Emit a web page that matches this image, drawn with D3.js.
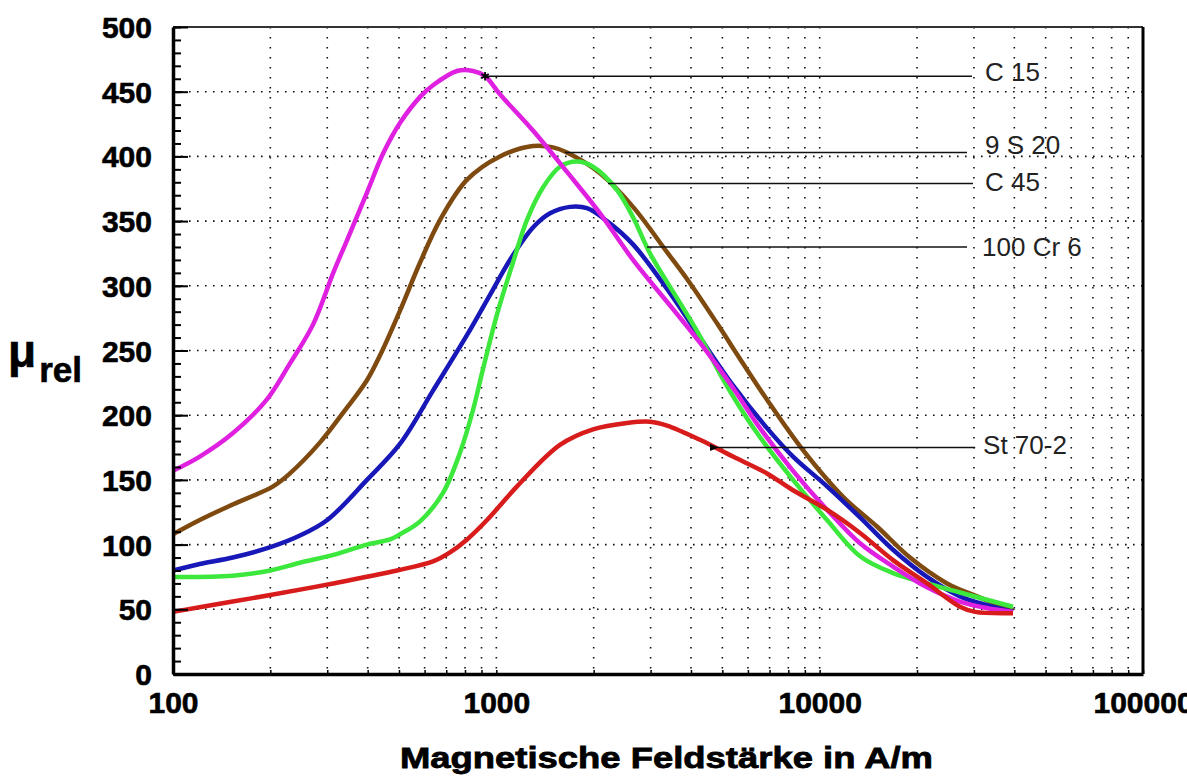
<!DOCTYPE html>
<html>
<head>
<meta charset="utf-8">
<script src="https://cdnjs.cloudflare.com/ajax/libs/d3/7.8.5/d3.min.js"></script>
<style>
body { margin: 0; background: #fff; }
text { font-family: "Liberation Sans", Arial, sans-serif; }
</style>
</head>
<body>
<script>
// [H in A/m, mu_rel]
var c15 = [[100,157],[121,168],[153,186],[195,212],[230,240],[271,270],[313,310],[345,335],[398,372],[446,402],[504,426],[581,446],[637,455],[756,466],[847,466],[923,462],[1026,448],[1298,420],[1654,388],[2093,356],[2647,320],[3519,282],[4265,256],[5395,221],[6539,190],[8271,157],[10537,127],[13330,101],[16860,83],[21480,67],[27160,56],[32800,51],[39620,48]];
var s920 = [[100,108],[121,119],[153,131],[204,145],[230,155],[285,179],[336,202],[398,227],[446,251],[504,281],[581,318],[670,351],[812,382],[1026,400],[1298,408],[1497,407],[1654,403],[2093,387],[2647,361],[3372,326],[3972,302],[4814,271],[5793,240],[6873,212],[8883,173],[11810,137],[15040,114],[19030,90],[24760,70],[30670,60],[39620,49]];
var c45 = [[100,75],[153,76],[200,80],[247,86],[313,92],[398,100],[469,104],[504,108],[581,118],[684,140],[772,171],[847,204],[910,236],[1005,278],[1126,318],[1244,351],[1394,376],[1573,392],[1776,396],[1991,392],[2362,374],[2647,353],[2988,325],[3779,283],[4265,261],[4918,232],[5670,206],[6539,183],[8271,150],[10537,119],[13330,91],[16860,78],[21480,70],[27160,63],[39620,52]];
var cr6 = [[100,80],[121,85],[153,90],[200,98],[247,107],[300,119],[398,150],[504,178],[637,219],[812,262],[956,293],[1102,320],[1298,345],[1466,356],[1690,361],[1907,360],[2199,350],[2647,332],[3519,291],[4265,260],[5395,223],[6873,190],[8271,168],[10537,145],[13330,121],[16860,96],[21480,75],[27160,60],[39620,48]];
var st70 = [[100,48],[153,56],[200,61],[313,70],[493,80],[637,87],[719,94],[812,104],[936,119],[1159,145],[1573,177],[1991,189],[2536,194],[2988,195],[3372,192],[4265,181],[5395,168],[6873,155],[8271,142],[10537,127],[13330,109],[16860,88],[21480,70],[27160,52],[30270,48],[39620,47]];

var names = ["C 15", "9 S 20", "C 45", "100 Cr 6", "St 70-2"];
var leaderStartH = [923, 1631, 2215, 2925, 4848];
var leaderMu = [462, 403, 379, 330, 175];
var leaderEndH = [29590, 28560, 29800, 28560, 30270];
var labelH = [32470, 32470, 32470, 31790, 32020];
var labelMu = [465, 409, 380, 330, 177];

var xTickLabels = [100, 1000, 10000, 100000];
var yTickLabels = d3.range(0, 501, 50);

var margin = {top: 27, right: 44, bottom: 104, left: 173},
    width = 1187 - margin.left - margin.right,
    height = 778 - margin.top - margin.bottom;

var svg = d3.select("body").append("svg")
    .attr("width", 1187)
    .attr("height", 778);

svg.append("rect").attr("width", 1187).attr("height", 778).attr("fill", "#fff");

var g = svg.append("g")
    .attr("transform", "translate(" + margin.left + "," + margin.top + ")");

var x = d3.scaleLog().domain([100, 100000]).range([0, width]);
var y = d3.scaleLinear().domain([0, 500]).range([height, 0]);

// dotted grid
g.append("g").selectAll("line")
    .data(x.ticks().filter(function(d){ return d > 100 && d < 100000; }))
    .enter().append("line")
    .attr("x1", function(d){ return x(d); })
    .attr("x2", function(d){ return x(d); })
    .attr("y1", 0).attr("y2", height)
    .style("stroke", "#111")
    .style("stroke-width", 1.6)
    .style("stroke-dasharray", "1.6,8.4");

g.append("g").selectAll("line")
    .data(yTickLabels.filter(function(d){ return d > 0 && d < 500; }))
    .enter().append("line")
    .attr("x1", 0).attr("x2", width)
    .attr("y1", function(d){ return y(d); })
    .attr("y2", function(d){ return y(d); })
    .style("stroke", "#111")
    .style("stroke-width", 1.6)
    .style("stroke-dasharray", "1.6,6.4");

// frame top / right
g.append("line").attr("x1", 0).attr("x2", width).attr("y1", 0).attr("y2", 0)
    .style("stroke", "#333").style("stroke-width", 2);
g.append("line").attr("x1", width).attr("x2", width).attr("y1", 0).attr("y2", height)
    .style("stroke", "#000").style("stroke-width", 3);

// curves
var line = d3.line()
    .x(function(d){ return x(d[0]); })
    .y(function(d){ return y(d[1]); })
    .curve(d3.curveCatmullRom.alpha(0.5));

var series = [
    {data: s920, color: "#7f4a10"},
    {data: cr6, color: "#1818b8"},
    {data: c45, color: "#3ce83c"},
    {data: c15, color: "#e020e0"},
    {data: st70, color: "#d81c1c"}
];

g.selectAll(".curve")
    .data(series)
    .enter().append("path")
    .attr("class", "curve")
    .attr("d", function(d){ return line(d.data); })
    .style("fill", "none")
    .style("stroke", function(d){ return d.color; })
    .style("stroke-width", 4.5)
    .style("stroke-linejoin", "round");

// leader lines and labels
svg.append("defs").append("marker")
    .attr("id", "arrow")
    .attr("viewBox", "0 0 10 10")
    .attr("refX", 1).attr("refY", 5)
    .attr("markerWidth", 6).attr("markerHeight", 6)
    .attr("orient", "auto-start-reverse")
    .append("path").attr("d", "M0,5 L10,1 L10,9 Z").style("fill", "#000");

g.selectAll(".leader")
    .data(names)
    .enter().append("line")
    .attr("class", "leader")
    .attr("x1", function(d,i){ return x(leaderStartH[i]); })
    .attr("x2", function(d,i){ return x(leaderEndH[i]); })
    .attr("y1", function(d,i){ return y(leaderMu[i]); })
    .attr("y2", function(d,i){ return y(leaderMu[i]); })
    .style("stroke", "#111")
    .style("stroke-width", 1.5)
    .attr("marker-start", function(d,i){ return i === 4 ? "url(#arrow)" : null; });

g.append("path")
    .attr("d", d3.symbol(d3.symbolAsterisk, 50)())
    .attr("transform", "translate(" + x(leaderStartH[0]) + "," + y(leaderMu[0]) + ")")
    .style("stroke", "#000").style("stroke-width", 1.8).style("fill", "none");

g.selectAll(".lbl")
    .data(names)
    .enter().append("text")
    .attr("class", "lbl")
    .attr("x", function(d,i){ return x(labelH[i]); })
    .attr("y", function(d,i){ return y(labelMu[i]); })
    .attr("dy", "0.35em")
    .style("font-size", "26px")
    .style("fill", "#222")
    .text(function(d){ return d; });

// y axis
var yMinor = g.append("g")
    .call(d3.axisLeft(y).tickValues(d3.range(0, 501, 10)).tickSize(-8).tickFormat(""));
yMinor.select(".domain").remove();
yMinor.selectAll("line").style("stroke", "#000").style("stroke-width", 2);

var yAxis = g.append("g")
    .call(d3.axisLeft(y).tickValues(yTickLabels).tickSizeInner(-15).tickSizeOuter(0).tickPadding(21));
yAxis.select(".domain").style("stroke", "#000").style("stroke-width", 3.5);
yAxis.selectAll("line").style("stroke", "#000").style("stroke-width", 2);
yAxis.selectAll("text")
    .style("font-size", "30px").style("font-weight", "bold").style("fill", "#000")
    .style("stroke", "#000").style("stroke-width", 0.6)
    .attr("dy", "0.35em");

// x axis
var xMinor = g.append("g")
    .attr("transform", "translate(0," + height + ")")
    .call(d3.axisBottom(x).tickSize(-4).tickFormat(""));
xMinor.select(".domain").remove();
xMinor.selectAll("line").style("stroke", "#000").style("stroke-width", 1.5);

var xAxis = g.append("g")
    .attr("transform", "translate(0," + height + ")")
    .call(d3.axisBottom(x).tickValues(xTickLabels).tickSize(0).tickPadding(18).tickFormat(d3.format("d")));
xAxis.select(".domain").style("stroke", "#000").style("stroke-width", 3.5);
xAxis.selectAll("text")
    .style("font-size", "30px").style("font-weight", "bold").style("fill", "#000")
    .style("stroke", "#000").style("stroke-width", 0.6);

// axis titles
svg.append("text")
    .attr("x", 400).attr("y", 768)
    .attr("textLength", 533).attr("lengthAdjust", "spacingAndGlyphs")
    .style("font-size", "30px").style("font-weight", "bold")
    .style("stroke", "#000").style("stroke-width", 0.8)
    .text("Magnetische Feldstärke in A/m");

var ytitle = svg.append("text")
    .attr("x", 8).attr("y", 367)
    .style("font-weight", "bold")
    .style("stroke", "#000").style("stroke-width", 0.6);
ytitle.append("tspan").style("font-size", "46px").text("μ");
ytitle.append("tspan").attr("dx", 3).attr("dy", 15).style("font-size", "35px").text("rel");
</script>
</body>
</html>
